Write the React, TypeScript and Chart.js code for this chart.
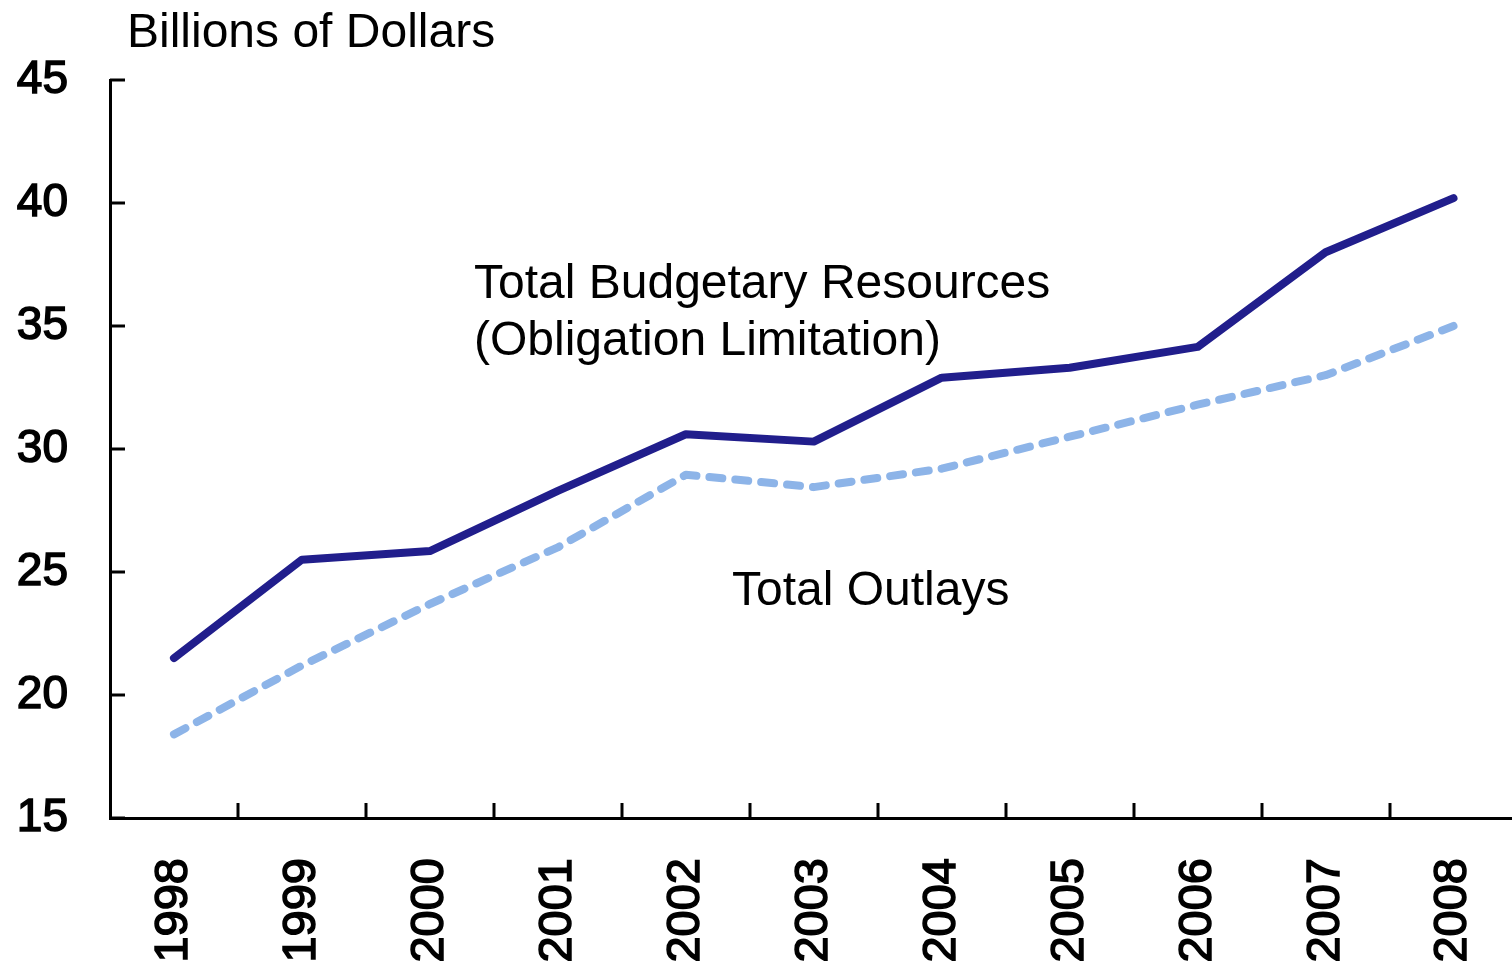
import React, { useEffect, useRef } from "react";
import { Chart, registerables } from "chart.js";

Chart.register(...registerables);

const years = ["1998", "1999", "2000", "2001", "2002", "2003", "2004", "2005", "2006", "2007", "2008"];
const budgetaryResources = [21.5, 25.5, 25.85, 28.3, 30.6, 30.3, 32.9, 33.3, 34.15, 38.0, 40.2];
const totalOutlays = [18.4, 21.2, 23.7, 26.0, 28.95, 28.45, 29.2, 30.5, 31.8, 33.0, 35.0];
const yTicks = [15, 20, 25, 30, 35, 40, 45];
const titleText = "Billions of Dollars";
const budgetLabel = ["Total Budgetary Resources", "(Obligation Limitation)"];
const outlaysLabel = "Total Outlays";

const FONT = "'Liberation Sans', Arial, Helvetica, sans-serif";

const decorPlugin = {
  id: "decor",
  afterDraw(chart: any) {
    const ctx = chart.ctx;
    const x = chart.scales.x;
    const y = chart.scales.y;
    const area = chart.chartArea;
    ctx.save();
    ctx.strokeStyle = "#000";
    ctx.lineWidth = 3;
    for (let i = 0; i < years.length - 1; i++) {
      const px = Math.round((x.getPixelForValue(i) + x.getPixelForValue(i + 1)) / 2);
      ctx.beginPath();
      ctx.moveTo(px, area.bottom);
      ctx.lineTo(px, area.bottom - 15);
      ctx.stroke();
    }
    for (const v of yTicks) {
      const py = Math.round(y.getPixelForValue(v));
      ctx.beginPath();
      ctx.moveTo(area.left, py);
      ctx.lineTo(area.left + 15, py);
      ctx.stroke();
    }
    ctx.fillStyle = "#000";
    ctx.font = `48px ${FONT}`;
    ctx.textAlign = "left";
    ctx.textBaseline = "alphabetic";
    ctx.fillText(titleText, 127, 47);
    ctx.fillText(budgetLabel[0], 474, 298);
    ctx.fillText(budgetLabel[1], 474, 355);
    ctx.fillText(outlaysLabel, 732, 605);
    ctx.restore();
  },
};

export default function App() {
  const ref = useRef<HTMLCanvasElement | null>(null);
  useEffect(() => {
    document.body.style.margin = "0";
    document.body.style.overflow = "hidden";
    const canvas = ref.current!;
    const chart = new Chart(canvas, {
      type: "line",
      data: {
        labels: years,
        datasets: [
          {
            label: "Total Outlays",
            data: totalOutlays,
            borderColor: "#8DB4E8",
            borderWidth: 8,
            borderDash: [13, 13],
            borderCapStyle: "round",
            borderJoinStyle: "round",
            pointRadius: 0,
            tension: 0,
            fill: false,
          },
          {
            label: "Total Budgetary Resources",
            data: budgetaryResources,
            borderColor: "#211E8C",
            borderWidth: 8,
            borderCapStyle: "round",
            borderJoinStyle: "round",
            pointRadius: 0,
            tension: 0,
            fill: false,
          },
        ],
      },
      options: {
        responsive: false,
        animation: false,
        devicePixelRatio: 1,
        layout: { padding: { top: 80, right: 2, left: 0, bottom: 0 } },
        plugins: {
          legend: { display: false },
          tooltip: { enabled: false },
          title: { display: false },
        },
        scales: {
          x: {
            type: "category",
            offset: true,
            grid: { display: false, drawTicks: false, offset: true },
            border: { display: true, color: "#000", width: 3 },
            ticks: {
              color: "#000",
              font: { family: FONT, size: 47 },
              textStrokeColor: "#000",
              textStrokeWidth: 1.5,
              minRotation: 90,
              maxRotation: 90,
              padding: 40,
              autoSkip: false,
            },
            afterFit(scale: any) {
              scale.height = 153;
            },
          },
          y: {
            type: "linear",
            min: 15,
            max: 45,
            grid: { display: false, drawTicks: false },
            border: { display: true, color: "#000", width: 3 },
            ticks: {
              color: "#000",
              font: { family: FONT, size: 46 },
              textStrokeColor: "#000",
              textStrokeWidth: 1.5,
              stepSize: 5,
              padding: 42,
            },
            afterFit(scale: any) {
              scale.width = 110;
            },
          },
        },
      },
      plugins: [decorPlugin],
    } as any);
    return () => chart.destroy();
  }, []);
  return (
    <div
      style={{
        position: "fixed",
        left: 0,
        top: 0,
        width: 1512,
        height: 971,
        overflow: "hidden",
        background: "#fff",
      }}
    >
      <canvas ref={ref} width={1550} height={971} style={{ display: "block", width: 1550, height: 971 }} />
    </div>
  );
}
